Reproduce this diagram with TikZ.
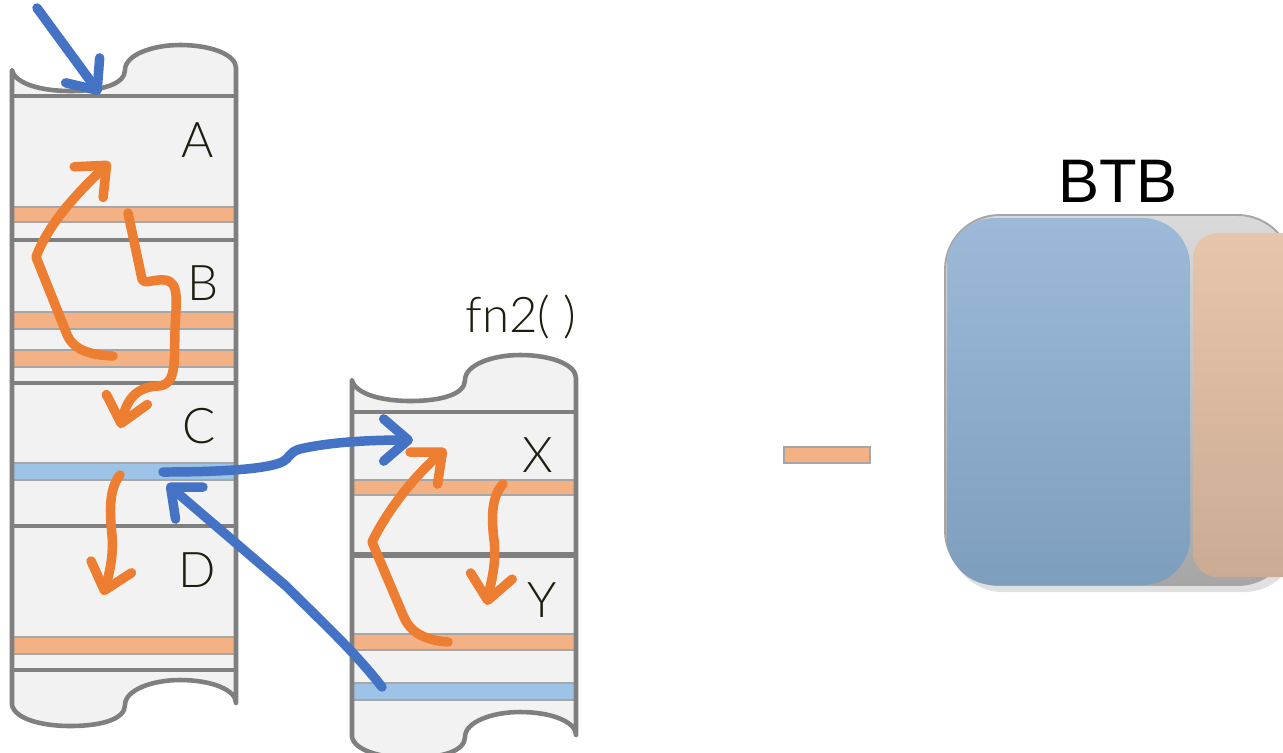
\documentclass[tikz,border=0pt]{standalone}
\usepackage{fontspec}
\setsansfont{Liberation Sans}
\newfontfamily\lblfont{Lato Light}
\usetikzlibrary{arrows.meta}
\definecolor{edgegray}{HTML}{7F7F7F}
\definecolor{bargray}{HTML}{A6A6A6}
\definecolor{scrollfill}{HTML}{F2F2F2}
\definecolor{barorange}{HTML}{F4B183}
\definecolor{barblue}{HTML}{9DC3E6}
\definecolor{flowblue}{HTML}{4472C4}
\definecolor{floworange}{HTML}{ED7D31}
\definecolor{lbltext}{HTML}{1E1E0E}
\definecolor{btbgrayT}{HTML}{DADADA}
\definecolor{btbgrayB}{HTML}{A6A6A6}
\definecolor{btbblueT}{HTML}{9CBAD8}
\definecolor{btbblueB}{HTML}{7E9EBE}
\definecolor{btborangeT}{HTML}{E7C5AB}
\definecolor{btborangeB}{HTML}{CCAB94}

% outline of a scroll-shaped stack frame; #1 = height of its left edge
\newcommand\scrollpath[1]{%
  (0,0) .. controls (3,14) and (30,21) .. (58,21)
  .. controls (90,21) and (113,14) .. (113,0)
  .. controls (113,-15) and (140,-25) .. (168,-25)
  .. controls (200,-25) and (224,-15) .. (224,-2)
  -- (224,#1-2)
  .. controls (224,#1-15) and (200,#1-25) .. (168,#1-25)
  .. controls (140,#1-25) and (113,#1-15) .. (113,#1)
  .. controls (113,#1+14) and (90,#1+21) .. (58,#1+21)
  .. controls (30,#1+21) and (3,#1+14) .. (0,#1) -- cycle}

\tikzset{
  outline/.style={draw=edgegray, line width=2.6pt, line join=round},
  sepline/.style={draw=edgegray, line width=2.4pt},
  obar/.style={fill=barorange, draw=bargray, line width=1.3pt},
  bbar/.style={fill=barblue, draw=bargray, line width=1.3pt},
  flow/.style={line width=5.4pt, line cap=round, line join=round,
    -{Straight Barb[length=14pt,width=24pt,round]}},
  flowb/.style={flow, draw=flowblue},
  flowo/.style={flow, draw=floworange},
  lbl/.style={font=\lblfont\fontsize{28}{30}\selectfont, text=lbltext,
    anchor=base, inner sep=0pt},
}

\begin{document}
\begin{tikzpicture}[x=0.02cm, y=-0.02cm]
\useasboundingbox (0,0) rectangle (1283,752);
\clip (0,0) rectangle (1283,752);

% ---- caller frame ----
\fill[scrollfill, shift={(12,70)}] \scrollpath{635};
\draw[sepline] (12,96) -- (236,96);
\draw[obar] (12,207) rectangle (236,222);
\draw[sepline] (12,240) -- (236,240);
\draw[obar] (12,312) rectangle (236,329);
\draw[obar] (12,350) rectangle (236,367);
\draw[sepline] (12,383) -- (236,383);
\draw[bbar] (12,463) rectangle (236,480);
\draw[sepline] (12,526) -- (236,526);
\draw[obar] (12,637) rectangle (236,654);
\draw[sepline] (12,670) -- (236,670);
\draw[outline, shift={(12,70)}] \scrollpath{635};

\node[lbl] (lA) at (198,157) {A};
\node[lbl] (lB) at (203,300) {B};
\node[lbl] (lC) at (199,443) {C};
\node[lbl] (lD) at (197,587) {D};

% ---- callee frame fn2() ----
\fill[scrollfill, shift={(352,380)}] \scrollpath{357};
\draw[sepline] (352,412) -- (576,412);
\draw[obar] (352,480) rectangle (576,495);
\draw[sepline, line width=3pt] (352,555) -- (576,555);
\draw[obar] (352,634) rectangle (576,650);
\draw[bbar] (352,683) rectangle (576,700);
\draw[outline, shift={(352,380)}] \scrollpath{357};

\node[lbl] (lX) at (538,472) {X};
\node[lbl] (lY) at (542,617) {Y};
\node[lbl] (fn) at (521,332) {fn2(\ )};

% ---- flow arrows ----
\coordinate (entry) at (37,8);
\coordinate (topA) at (100,94);
\draw[flowb] (entry) -- (topA);

\coordinate (o1s) at (113,356);
\coordinate (o1e) at (110,162);
\draw[flowo] (o1s) .. controls (90,355) and (72,350) .. (66,332)
  -- (36,257) .. controls (48,225) and (75,195) .. (o1e);

\coordinate (o2s) at (128,213);
\coordinate (o2e) at (120,428);
\draw[flowo] (o2s) -- (142,279) .. controls (145,285) and (152,279) .. (165,280)
  .. controls (180,282) and (176,302) .. (175,330)
  .. controls (174,362) and (177,385) .. (158,386)
  .. controls (140,387) and (128,395) .. (o2e);

\coordinate (o3s) at (120,475);
\coordinate (o3e) at (103,595);
\draw[flowo] (o3s) .. controls (108,490) and (110,515) .. (112,535)
  .. controls (114,558) and (108,578) .. (o3e);

\coordinate (callpt) at (163,472);
\coordinate (xin) at (413,440);
\draw[flowb] (callpt) .. controls (210,472) and (265,470) .. (282,462)
  .. controls (290,458) and (289,452) .. (300,449)
  .. controls (330,442) and (370,440) .. (xin);

\coordinate (retpt) at (382,687);
\coordinate (retin) at (167,484);
\draw[flowb] (retpt) .. controls (355,652) and (318,618) .. (286,586) -- (retin);

\coordinate (o4s) at (448,642);
\coordinate (o4e) at (446,449);
\draw[flowo] (o4s) .. controls (425,640) and (410,633) .. (403,615)
  -- (372,542) .. controls (385,515) and (410,480) .. (o4e);

\coordinate (o5s) at (503,484);
\coordinate (o5e) at (487,605);
\draw[flowo] (o5s) .. controls (492,496) and (491,515) .. (494,540)
  .. controls (497,565) and (490,585) .. (o5e);

% ---- single entry ----
\draw[obar] (784,447) rectangle (870,463);

% ---- BTB ----
\node[font=\sffamily\fontsize{35}{38}\selectfont, anchor=base, inner sep=0pt] (btb) at (1118,202) {BTB};
\fill[black, opacity=0.12, rounded corners=30pt] (950,222) rectangle (1297,592);
\shade[top color=btbgrayT, bottom color=btbgrayB, rounded corners=31pt]
  (945,215) rectangle (1292,585);
\draw[bargray, line width=1.1pt, rounded corners=31pt] (945,215) rectangle (1292,585);
\shade[top color=btbblueT, bottom color=btbblueB, rounded corners=27pt]
  (947,218) rectangle (1190,585);
\shade[top color=btborangeT, bottom color=btborangeB, rounded corners=14pt]
  (1193,233) rectangle (1310,577);
\end{tikzpicture}
\end{document}
